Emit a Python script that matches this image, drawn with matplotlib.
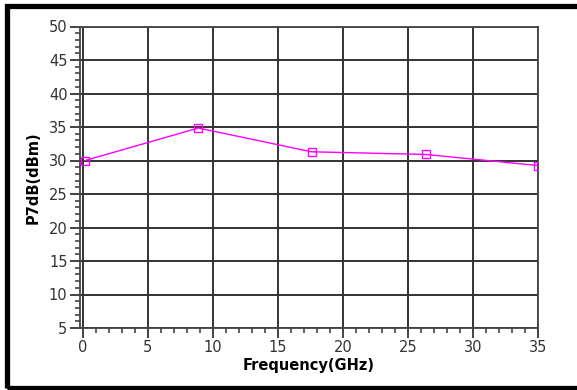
import matplotlib
matplotlib.use("Agg")
import matplotlib.pyplot as plt
from matplotlib.patches import Rectangle
from matplotlib.ticker import MultipleLocator

# P7dB vs frequency
freq_ghz = [0.2, 8.9, 17.6, 26.4, 35.0]
p7db_dbm = [30.0, 34.85, 31.3, 30.9, 29.25]

x_ticks = [0, 5, 10, 15, 20, 25, 30, 35]
y_ticks = [5, 10, 15, 20, 25, 30, 35, 40, 45, 50]

plt.rcParams['font.family'] = ['DejaVu Sans']

fig = plt.figure(figsize=(5.77, 3.90), dpi=100)
ax = fig.add_axes([80 / 577, 62 / 390, 458 / 577, 301.5 / 390])

ax.plot(freq_ghz, p7db_dbm, color='#ff00ff', linewidth=1.0,
        marker='s', markersize=5.5, markerfacecolor='none',
        markeredgecolor='#ff00ff', markeredgewidth=1.0, zorder=3)

ax.set_xlim(-0.2, 35)
ax.set_ylim(5, 50)
ax.set_xticks(x_ticks)
ax.set_yticks(y_ticks)
ax.xaxis.set_minor_locator(MultipleLocator(1))
ax.yaxis.set_minor_locator(MultipleLocator(1))

ax.grid(True, which='major', color='#333333', linewidth=1.4)
ax.set_axisbelow(True)
for side in ['left', 'bottom', 'right', 'top']:
    ax.spines[side].set_color('#444444')
    ax.spines[side].set_linewidth(1.3)

ax.tick_params(which='major', direction='out', length=7, width=1.2,
               color='#222222', labelsize=10.5, labelcolor='#333333', pad=2)
ax.tick_params(which='minor', direction='out', length=3.5, width=1.1,
               color='#333333')

ax.set_xlabel('Frequency(GHz)', fontsize=10.5, fontweight='bold', labelpad=2)
ax.set_ylabel('P7dB(dBm)', fontsize=10.5, fontweight='bold', labelpad=6)

# black frame around the whole figure
fig.add_artist(Rectangle((6.5 / 577, 2 / 390), 1.2, 382 / 390,
                         transform=fig.transFigure, fill=False,
                         edgecolor='black', linewidth=3.8))

fig.savefig('out.png', dpi=100)
